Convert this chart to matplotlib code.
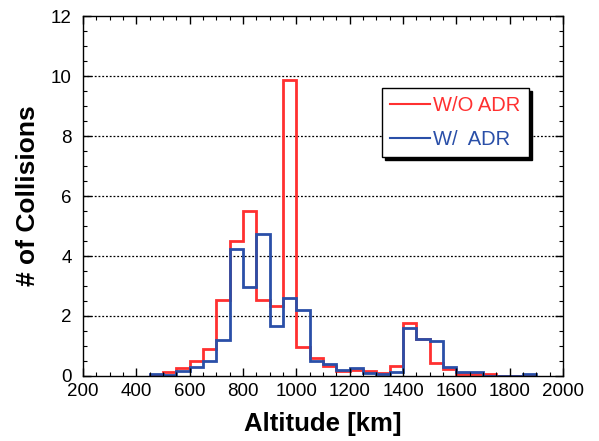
import matplotlib
matplotlib.use("Agg")
import matplotlib.pyplot as plt
from matplotlib.ticker import MultipleLocator
import numpy as np

plt.rcParams['font.family'] = ['Liberation Sans', 'DejaVu Sans']

bin_edges = [450, 500, 550, 600, 650, 700, 750, 800, 850, 900, 950, 1000, 1050,
             1100, 1150, 1200, 1250, 1300, 1350, 1400, 1450, 1500, 1550, 1600,
             1650, 1700, 1750, 1800, 1850, 1900]
wo_adr = [0.02, 0.14, 0.26, 0.51, 0.90, 2.53, 4.51, 5.51, 2.53, 2.34, 9.87, 0.98,
          0.61, 0.33, 0.18, 0.20, 0.18, 0.09, 0.33, 1.76, 1.23, 0.44, 0.22, 0.07,
          0.07, 0.06, 0.0, 0.0, 0.0]
w_adr = [0.05, 0.02, 0.18, 0.31, 0.50, 1.20, 4.22, 2.98, 4.73, 1.67, 2.61, 2.20,
         0.51, 0.39, 0.20, 0.28, 0.09, 0.07, 0.13, 1.61, 1.22, 1.17, 0.31, 0.14,
         0.14, 0.0, 0.0, 0.0, 0.06]

red = '#ff3030'
blue = '#2a4fa8'

fig = plt.figure(figsize=(5.99, 4.41), dpi=100)
ax = fig.add_axes([0.1386, 0.1474, 0.8014, 0.8163])

ax.stairs(wo_adr, bin_edges, baseline=0, color=red, lw=2.0, label='W/O ADR')
ax.stairs(w_adr, bin_edges, baseline=0, color=blue, lw=2.0, label='W/  ADR')

ax.set_xlim(200, 2000)
ax.set_ylim(0, 12)
ax.xaxis.set_major_locator(MultipleLocator(200))
ax.xaxis.set_minor_locator(MultipleLocator(50))
ax.yaxis.set_major_locator(MultipleLocator(2))
ax.yaxis.set_minor_locator(MultipleLocator(0.5))
ax.tick_params(which='both', direction='in', top=True, right=True, labelsize=13.5)
ax.tick_params(axis='x', which='major', pad=5)
ax.tick_params(axis='y', which='major', pad=8)
ax.tick_params(which='major', length=6, width=1)
ax.tick_params(which='minor', length=3, width=0.8)
for sp in ax.spines.values():
    sp.set_linewidth(1.0)

for v in [2, 4, 6, 8, 10]:
    ax.axhline(v, color='black', lw=0.9, ls=(0, (1.5, 1.5)), zorder=0)

ax.set_xlabel('Altitude [km]', fontsize=18.5, fontweight='bold', labelpad=9)
ax.set_ylabel('# of Collisions', fontsize=19, fontweight='bold', labelpad=8)

leg = ax.legend(loc='upper left', bbox_to_anchor=(0.623, 0.8), fontsize=14.5,
                frameon=True, fancybox=False, shadow={'color': 'black', 'alpha': 1.0},
                edgecolor='black', handlelength=2.0, handletextpad=0.15,
                borderpad=0.4, labelspacing=0.75, borderaxespad=0,
                columnspacing=0.5)
leg._legend_box.sep = 0
leg.get_frame().set_linewidth(1.0)
for txt, c in zip(leg.get_texts(), [red, blue]):
    txt.set_color(c)
for h in leg.get_lines():
    h.set_linewidth(1.5)

fig.savefig('out.png', dpi=100)
